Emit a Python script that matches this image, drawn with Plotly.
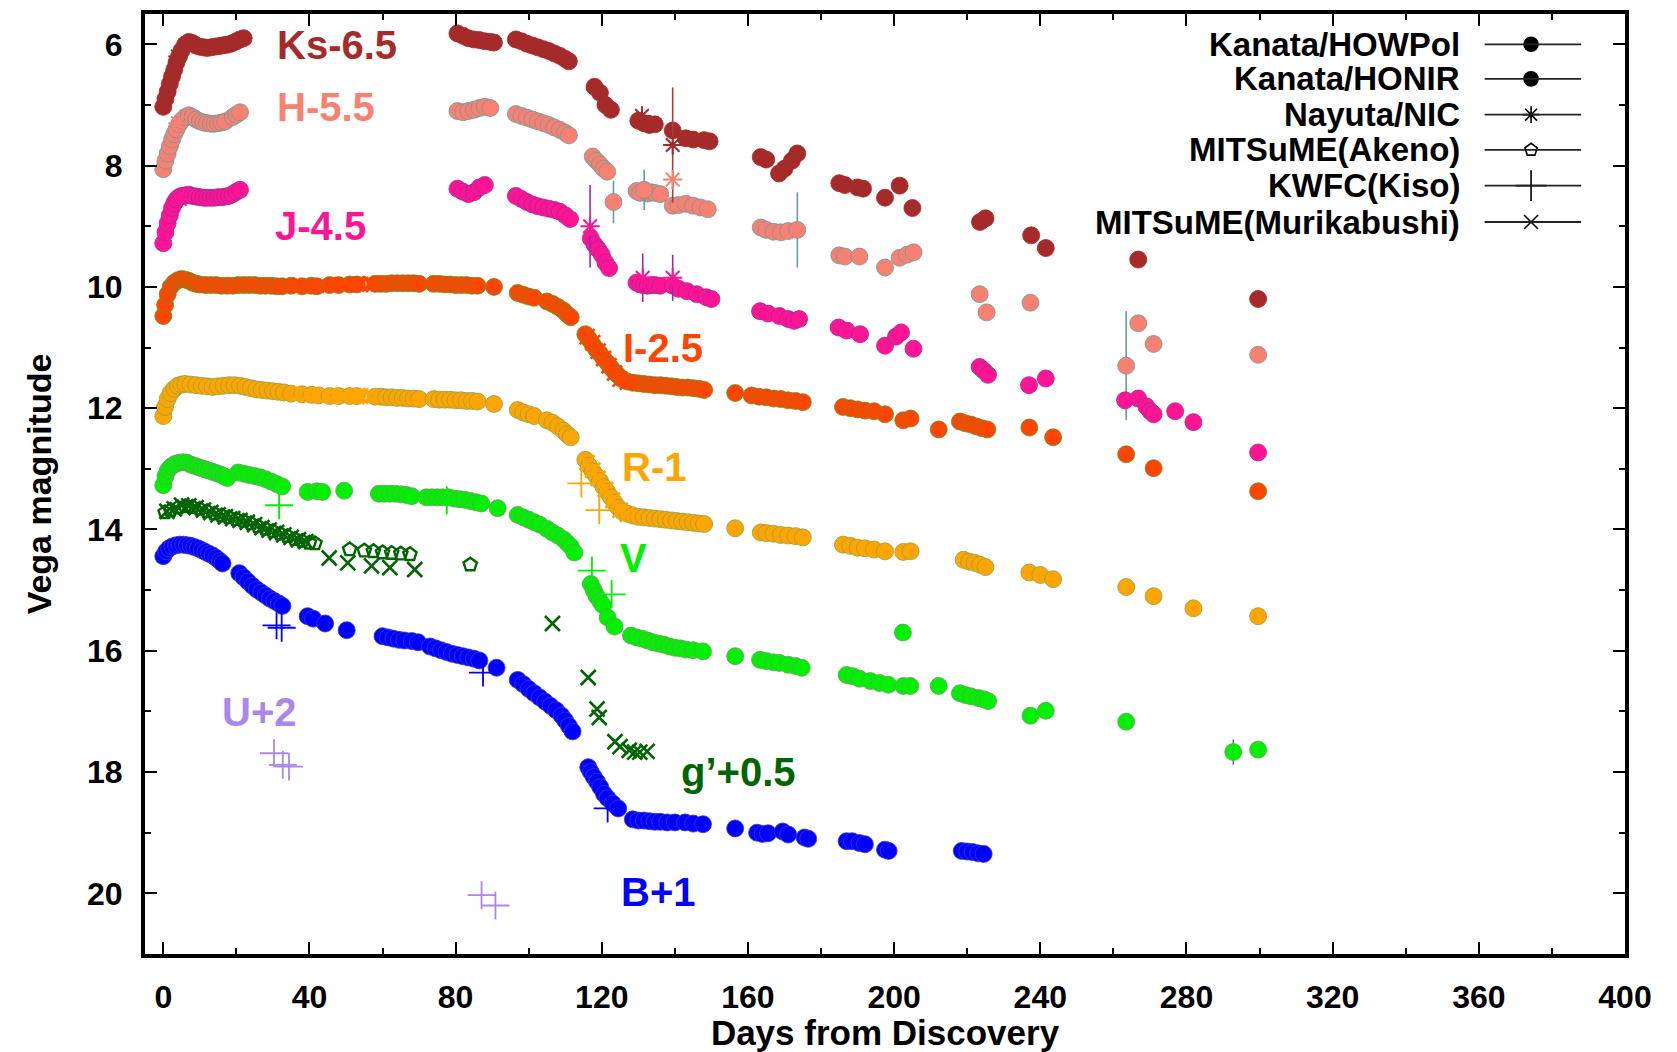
import plotly.graph_objects as go

# ---------------- photometry (days from discovery, offset Vega magnitudes) ----------------
# Ks - 6.5
ks_honir_day = [0.0, 0.6, 1.2, 1.8, 2.4, 3.0, 3.6, 4.3, 5.0, 6.0, 7.0, 8.0, 9.0, 10.0, 11.0, 12.0, 13.0,
                14.0, 15.0, 16.0, 17.0, 18.0, 19.0, 20.0, 21.0, 22.0,
                80.5, 82.0, 83.5, 85.0, 86.5, 88.0, 89.5, 90.5,
                96.5, 98.0, 99.5, 101.0, 102.5, 104.0, 105.5, 107.0, 108.5, 110.0, 111.0,
                118.0, 119.5, 121.0, 122.5,
                130.0, 131.5, 133.0, 134.5,
                139.4, 143.0, 145.0, 148.0, 149.5,
                163.5, 165.0, 168.5, 170.0, 172.0, 173.5,
                185.0, 186.5, 190.0, 191.5, 197.5, 201.5, 205.0,
                223.5, 225.0, 237.5, 241.5, 266.8, 299.6]
ks_honir_mag = [7.03, 6.90, 6.78, 6.65, 6.53, 6.42, 6.30, 6.20, 6.10, 6.00, 5.96, 5.98, 6.02, 6.04, 6.05, 6.06, 6.05,
                6.04, 6.03, 6.02, 6.01, 6.00, 5.98, 5.95, 5.92, 5.90,
                5.82, 5.86, 5.90, 5.92, 5.93, 5.95, 5.96, 5.97,
                5.92, 5.95, 5.99, 6.02, 6.05, 6.08, 6.11, 6.15, 6.19, 6.24, 6.28,
                6.70, 6.80, 7.00, 7.08,
                7.26, 7.30, 7.33, 7.32,
                7.42, 7.55, 7.57, 7.58, 7.60,
                7.86, 7.90, 8.13, 8.05, 7.92, 7.80,
                8.29, 8.32, 8.36, 8.38, 8.53, 8.33, 8.70,
                8.93, 8.87, 9.15, 9.36, 9.55, 10.20]
ks_nic_day = [4.0, 131.0, 139.4]
ks_nic_mag = [6.20, 7.18, 7.66]
ks_nic_err = [0.05, 0.10, 0.95]

# H - 5.5
h_honir_day = [0.0, 0.6, 1.2, 1.8, 2.4, 3.0, 3.6, 4.3, 5.0, 6.0, 7.0, 8.0, 9.0, 10.0, 11.0, 12.0, 13.0,
               14.0, 15.0, 16.0, 17.0, 19.0, 20.0, 21.0,
               80.5, 82.0, 83.5, 85.0, 86.5, 88.0, 89.5,
               96.5, 98.0, 99.5, 101.0, 102.5, 104.0, 105.5, 107.0, 108.5, 110.0, 111.0,
               117.5, 118.5, 119.5, 120.5, 121.5,
               129.5, 130.5, 132.5, 133.5, 134.5, 136.0,
               139.4, 141.0, 143.0, 145.0, 147.0, 149.0,
               163.5, 165.0, 167.0, 169.0, 171.0,
               185.0, 186.5, 190.5, 197.5, 201.5, 203.5, 205.3,
               223.4, 225.3, 237.3, 266.8, 271.0, 299.6]
h_honir_mag = [8.06, 7.92, 7.80, 7.68, 7.57, 7.48, 7.40, 7.32, 7.26, 7.20, 7.17, 7.20, 7.24, 7.27, 7.29, 7.30, 7.31,
               7.31, 7.30, 7.29, 7.27, 7.20, 7.16, 7.12,
               7.10, 7.12, 7.10, 7.08, 7.05, 7.03, 7.05,
               7.15, 7.18, 7.21, 7.24, 7.27, 7.30, 7.33, 7.37, 7.41, 7.46, 7.50,
               7.85, 7.92, 7.98, 8.05, 8.10,
               8.42, 8.45, 8.46, 8.44, 8.45, 8.47,
               8.66, 8.65, 8.63, 8.66, 8.69, 8.72,
               9.02, 9.06, 9.09, 9.10, 9.08,
               9.48, 9.50, 9.50, 9.68, 9.52, 9.47, 9.43,
               10.12, 10.42, 10.26, 10.60, 10.94, 11.12]
h_honir_err_day = [123.2, 131.6, 173.5, 263.5]
h_honir_err_mag = [8.60, 8.40, 9.06, 11.30]
h_honir_err = [0.35, 0.33, 0.62, 0.90]
h_nic_day = [4.0, 139.4]
h_nic_mag = [7.30, 8.23]
h_nic_err = [0.05, 0.15]

# J - 4.5
j_honir_day = [0.0, 0.6, 1.2, 1.8, 2.4, 3.0, 3.6, 4.3, 5.0, 6.0, 7.0, 8.0, 9.0, 10.0, 11.0, 12.0, 13.0,
               14.0, 15.0, 16.0, 17.0, 18.0, 19.0, 20.0, 21.0,
               80.5, 82.0, 83.5, 85.0, 86.5, 88.0,
               96.5, 98.0, 99.5, 101.0, 102.5, 104.0, 105.5, 107.0, 108.5, 110.0, 111.3,
               117.0, 118.0, 119.0, 120.0, 121.0, 122.0,
               129.5, 130.5, 131.5, 132.5, 133.5, 134.5, 136.0,
               139.4, 141.0, 143.3, 146.0, 148.6, 150.0,
               163.3, 165.5, 168.6, 171.0, 172.6, 174.0,
               184.8, 187.0, 190.7, 197.5, 200.5, 201.9, 205.3,
               223.4, 224.5, 225.7, 236.9, 241.5,
               263.2, 266.8, 269.0, 270.1, 271.0, 276.9, 281.9, 299.6]
j_honir_mag = [9.28, 9.10, 8.95, 8.82, 8.70, 8.62, 8.56, 8.52, 8.50, 8.49, 8.48, 8.50, 8.51, 8.52, 8.53, 8.53, 8.53,
               8.53, 8.52, 8.52, 8.51, 8.50, 8.47, 8.43, 8.40,
               8.38, 8.43, 8.47, 8.44, 8.36, 8.32,
               8.50, 8.55, 8.60, 8.64, 8.67, 8.69, 8.71, 8.73, 8.76, 8.82, 8.88,
               9.20, 9.30, 9.38, 9.47, 9.60, 9.69,
               9.93, 9.96, 9.97, 9.98, 9.97, 9.97, 9.98,
               9.98, 10.03, 10.07, 10.12, 10.17, 10.20,
               10.40, 10.44, 10.48, 10.53, 10.56, 10.53,
               10.67, 10.72, 10.78, 10.97, 10.82, 10.75, 11.02,
               11.32, 11.38, 11.45, 11.62, 11.51,
               11.87, 11.84, 11.97, 12.05, 12.10, 12.05, 12.23, 12.73]
j_nic_day = [4.5, 116.8, 131.2, 139.4]
j_nic_mag = [8.55, 9.00, 9.85, 9.85]
j_nic_err = [0.05, 0.68, 0.40, 0.38]

# I - 2.5
i_howpol_day = [0.0, 0.5, 1.2, 2.0, 3.0, 4.0, 5.0, 6.0, 7.0, 8.0, 9.0, 10.0, 11.5, 13.0, 14.5, 16.0, 17.5,
                19.0, 20.5, 22.0, 23.5, 25.0, 26.5, 28.0, 29.5, 31.0, 32.5, 35.0, 38.0, 40.5, 42.0,
                45.5, 48.0, 51.0, 53.0, 58.0, 59.5, 61.0, 62.5, 64.0, 65.5, 67.0, 68.5, 70.0,
                74.0, 75.5, 77.0, 78.5, 80.0, 81.5, 83.0, 84.5, 86.0, 90.5,
                97.0, 98.5, 100.0, 101.5, 105.0, 106.5, 108.0, 109.5, 110.5, 111.5,
                115.5, 116.5, 117.5, 118.5, 119.5, 120.5, 121.5, 122.5, 123.5, 124.5, 125.5,
                127.0, 128.5, 130.0, 131.5, 133.0, 134.5, 136.0, 137.5, 139.0, 140.5, 142.0,
                143.5, 145.0, 146.5, 148.0,
                156.5, 161.0, 163.0, 165.0, 167.0, 169.0, 171.0, 173.0, 175.0,
                186.0, 188.0, 190.0, 192.0, 194.5, 197.5, 202.5, 204.5, 212.2,
                218.0, 219.5, 221.0, 222.5, 224.0, 225.5,
                237.0, 243.5, 263.5, 271.0, 299.6]
i_howpol_mag = [10.48, 10.30, 10.12, 10.00, 9.93, 9.89, 9.87, 9.88, 9.90, 9.93, 9.95, 9.96, 9.97, 9.97, 9.97, 9.98, 9.98,
                9.98, 9.97, 9.97, 9.97, 9.97, 9.98, 9.98, 9.98, 9.99, 9.99, 9.98, 9.99, 9.98, 9.99,
                9.97, 9.97, 9.96, 9.96, 9.95, 9.95, 9.95, 9.94, 9.94, 9.94, 9.94, 9.94, 9.95,
                9.95, 9.95, 9.96, 9.96, 9.97, 9.97, 9.97, 9.98, 9.98, 10.00,
                10.10, 10.13, 10.16, 10.18, 10.24, 10.28, 10.33, 10.39, 10.45, 10.50,
                10.78, 10.86, 10.95, 11.03, 11.10, 11.18, 11.25, 11.33, 11.40, 11.46, 11.52,
                11.56, 11.58, 11.59, 11.60, 11.61, 11.62, 11.62, 11.63, 11.64, 11.65, 11.66,
                11.66, 11.67, 11.68, 11.70,
                11.75, 11.79, 11.81, 11.82, 11.84, 11.85, 11.87, 11.88, 11.90,
                11.98, 12.00, 12.02, 12.04, 12.05, 12.10, 12.20, 12.17, 12.35,
                12.22, 12.25, 12.27, 12.30, 12.33, 12.35,
                12.32, 12.48, 12.76, 12.99, 13.37]
i_akeno_day = [36.0, 42.5, 47.0, 52.5, 55.0]
i_akeno_mag = [9.98, 9.99, 9.97, 9.96, 9.95]
i_murikabushi_day = [39.5, 49.5, 54.0, 56.5, 116.0, 117.5, 119.0, 120.5, 122.0, 123.5, 125.0, 127.0]
i_murikabushi_mag = [9.99, 9.97, 9.96, 9.95, 10.82, 10.92, 11.06, 11.18, 11.30, 11.42, 11.52, 11.57]

# R - 1
r_howpol_day = [0.0, 0.5, 1.2, 2.0, 3.0, 4.0, 5.0, 6.0, 7.5, 9.0, 10.5, 12.0, 13.5, 15.0, 16.5, 18.0, 19.5,
                21.0, 22.5, 24.0, 25.5, 27.0, 28.5, 30.0, 31.5, 33.0, 35.0, 38.0, 40.5, 42.5,
                45.5, 48.0, 51.0, 53.0, 58.0, 59.5, 61.0, 62.5, 64.0, 65.5, 67.0, 68.5, 70.0,
                74.0, 75.5, 77.0, 78.5, 80.0, 81.5, 83.0, 84.5, 86.0, 90.5,
                97.0, 98.5, 100.0, 101.5, 105.0, 106.5, 108.0, 109.5, 110.5, 111.5,
                115.5, 116.5, 117.5, 118.5, 119.5, 120.5, 121.5, 122.5, 123.5, 124.5, 125.5,
                127.0, 128.5, 130.0, 131.5, 133.0, 134.5, 136.0, 137.5, 139.0, 140.5, 142.0,
                143.5, 145.0, 146.5, 148.0,
                156.5, 163.5, 165.0, 167.0, 169.0, 171.0, 173.0, 175.0,
                186.0, 188.0, 190.0, 192.0, 194.5, 197.5, 202.5, 204.5,
                219.0, 220.5, 222.0, 223.5, 225.0,
                237.0, 240.0, 243.5, 263.5, 271.0, 299.6]
r_howpol_mag = [12.13, 11.98, 11.85, 11.75, 11.68, 11.63, 11.61, 11.60, 11.61, 11.62, 11.63, 11.64, 11.65, 11.64, 11.63, 11.62, 11.62,
                11.63, 11.65, 11.67, 11.69, 11.70, 11.71, 11.72, 11.73, 11.74, 11.76, 11.77, 11.78, 11.79,
                11.80, 11.80, 11.80, 11.80, 11.81, 11.81, 11.82, 11.82, 11.83, 11.83, 11.84, 11.84, 11.85,
                11.85, 11.86, 11.86, 11.86, 11.87, 11.87, 11.88, 11.88, 11.89, 11.93,
                12.03, 12.07, 12.10, 12.13, 12.20, 12.24, 12.30, 12.37, 12.43, 12.48,
                12.85, 12.95, 13.04, 13.12, 13.20, 13.30, 13.38, 13.47, 13.56, 13.64, 13.70,
                13.74, 13.77, 13.79, 13.80, 13.81, 13.82, 13.83, 13.84, 13.85, 13.86, 13.87,
                13.88, 13.89, 13.90, 13.91,
                13.98, 14.05, 14.06, 14.07, 14.09, 14.10, 14.11, 14.13,
                14.25, 14.27, 14.30, 14.31, 14.33, 14.36, 14.37, 14.36,
                14.50, 14.53, 14.55, 14.58, 14.62,
                14.71, 14.75, 14.82, 14.95, 15.10, 15.43]
r_howpol_err_day = [281.9]
r_howpol_err_mag = [15.30]
r_howpol_err = [0.10]
r_akeno_day = [36.0, 42.5, 47.0, 52.5, 55.0]
r_akeno_mag = [11.76, 11.79, 11.80, 11.80, 11.80]
r_murikabushi_day = [39.5, 49.5, 54.0, 56.5, 116.0, 117.5, 119.0, 121.0, 123.0, 125.0, 127.0]
r_murikabushi_mag = [11.77, 11.80, 11.80, 11.81, 12.90, 13.02, 13.16, 13.34, 13.52, 13.68, 13.75]
r_kwfc_day = [114.4, 119.3]
r_kwfc_mag = [13.24, 13.68]

# V
v_howpol_day = [0.0, 0.6, 1.3, 2.2, 3.2, 4.3, 5.4, 6.5, 7.5, 8.5, 9.5, 10.5, 11.5, 12.5, 13.5, 14.5, 15.5,
                16.5, 17.5, 20.5, 22.0, 23.5, 25.0, 26.5, 28.0, 29.5, 31.0, 32.5,
                39.5, 42.0, 43.5, 49.5,
                59.0, 60.5, 62.0, 63.5, 65.0, 66.5, 68.0, 72.0, 73.5, 75.0, 76.5, 78.0, 79.5,
                81.0, 82.5, 84.0, 85.5, 87.0, 91.5,
                97.0, 98.5, 100.0, 101.5, 103.0, 105.0, 106.5, 108.0, 109.5, 110.5, 111.5, 112.5,
                117.0, 117.8, 118.6, 119.5, 120.3, 121.6, 123.5,
                128.0, 129.5, 131.0, 132.5, 134.0, 135.5, 137.0, 138.5, 140.0, 141.5, 143.0, 145.0, 147.7,
                156.5, 163.3, 165.0, 167.0, 168.6, 171.0, 173.0, 174.7,
                187.0, 188.7, 190.5, 193.5, 196.0, 198.4, 202.4, 202.5, 204.4, 212.2,
                218.0, 219.5, 221.0, 223.0, 224.5, 225.7,
                237.3, 241.5, 263.5, 299.6]
v_howpol_mag = [13.27, 13.12, 13.02, 12.96, 12.92, 12.90, 12.89, 12.90, 12.93, 12.95, 12.97, 12.99, 13.01, 13.03, 13.05, 13.07, 13.09,
                13.12, 13.15, 13.06, 13.08, 13.10, 13.12, 13.14, 13.17, 13.21, 13.25, 13.29,
                13.38, 13.37, 13.38, 13.36,
                13.41, 13.41, 13.41, 13.41, 13.42, 13.43, 13.45, 13.47, 13.47, 13.47, 13.47, 13.47, 13.49,
                13.50, 13.51, 13.53, 13.55, 13.57, 13.65,
                13.76, 13.80, 13.84, 13.88, 13.92, 13.99, 14.05, 14.10, 14.16, 14.22, 14.28, 14.38,
                14.90, 15.00, 15.10, 15.18, 15.25, 15.45, 15.60,
                15.75, 15.78, 15.80, 15.83, 15.86, 15.88, 15.90, 15.93, 15.95, 15.96, 15.98, 15.99, 16.01,
                16.09, 16.15, 16.17, 16.19, 16.20, 16.23, 16.25, 16.28,
                16.40, 16.42, 16.46, 16.50, 16.53, 16.56, 15.70, 16.58, 16.58, 16.58,
                16.70, 16.73, 16.75, 16.78, 16.80, 16.83,
                17.07, 16.99, 17.17, 17.63]
v_howpol_err_day = [292.8]
v_howpol_err_mag = [17.67]
v_howpol_err = [0.21]
v_kwfc_day = [31.7, 77.6, 117.3, 122.7]
v_kwfc_mag = [13.60, 13.52, 14.68, 15.07]

# g' + 0.5
g_akeno_day = [0.5, 2.0, 4.0, 6.0, 8.0, 10.0, 12.0, 14.0, 16.0, 18.0, 20.0, 22.0, 24.0, 26.0, 28.0,
               30.0, 32.0, 34.0, 36.0, 38.0, 40.0, 41.5, 51.0, 55.0, 57.5, 60.0, 62.5, 65.0, 67.5, 84.0]
g_akeno_mag = [13.72, 13.68, 13.64, 13.62, 13.63, 13.66, 13.70, 13.74, 13.77, 13.80, 13.83, 13.86, 13.90, 13.95, 13.99,
               14.03, 14.07, 14.11, 14.16, 14.19, 14.22, 14.23, 14.33, 14.35, 14.36, 14.38, 14.39, 14.40, 14.41, 14.58]
g_murikabushi_day = [1.0, 3.0, 5.0, 7.0, 9.0, 11.0, 13.0, 15.0, 17.0, 19.0, 21.0, 23.0, 25.0, 27.0, 29.0,
                     31.0, 33.0, 35.0, 37.0, 39.0, 45.4, 50.5, 57.0,
                     62.0, 68.8, 106.5, 116.3, 118.7, 119.3, 123.6, 125.0, 127.5, 129.0, 130.4, 132.4]
g_murikabushi_mag = [13.70, 13.66, 13.60, 13.61, 13.64, 13.68, 13.72, 13.76, 13.79, 13.82, 13.85, 13.88, 13.92, 13.97, 14.01,
                     14.05, 14.09, 14.13, 14.17, 14.20, 14.47, 14.55, 14.60,
                     14.63, 14.66, 15.55, 16.44, 16.96, 17.10, 17.50, 17.58, 17.64, 17.67, 17.67, 17.66]

# B + 1
b_howpol_day = [0.0, 0.8, 1.6, 2.5, 3.5, 4.5, 5.5, 6.5, 7.5, 8.5, 9.5, 10.5, 11.5, 12.5, 13.5, 14.5, 15.5, 16.2,
                20.8, 22.0, 23.2, 24.4, 25.6, 26.8, 28.0, 29.2, 30.4, 31.6, 32.6,
                39.5, 41.0, 44.3, 50.2,
                60.0, 61.5, 63.0, 64.5, 66.0, 68.0, 69.7, 73.0, 74.5, 76.0, 77.5, 79.0, 80.5, 82.0, 83.5,
                85.0, 86.5, 91.2,
                97.0, 98.5, 100.0, 101.5, 103.0, 104.5, 106.0, 107.5, 109.0, 110.0, 111.0, 112.0,
                116.3, 117.0, 117.8, 118.7, 119.6, 120.6, 121.6, 123.0, 124.5,
                128.5, 130.0, 131.5, 133.0, 134.5, 136.0, 137.9, 140.0, 142.8, 145.0, 147.7,
                156.5, 162.5, 164.0, 165.5, 169.5, 171.0, 175.5, 176.5,
                187.0, 188.5, 190.5, 192.0, 197.5, 198.5,
                218.5, 220.0, 221.5, 223.0, 224.5]
b_howpol_mag = [14.44, 14.36, 14.31, 14.28, 14.26, 14.25, 14.25, 14.26, 14.27, 14.29, 14.31, 14.34, 14.37, 14.40, 14.43, 14.47, 14.52, 14.56,
                14.72, 14.79, 14.86, 14.93, 14.99, 15.04, 15.09, 15.14, 15.18, 15.22, 15.26,
                15.43, 15.47, 15.55, 15.66,
                15.76, 15.78, 15.80, 15.82, 15.83, 15.84, 15.86, 15.93, 15.96, 15.99, 16.02, 16.05, 16.07, 16.09, 16.11,
                16.13, 16.16, 16.28,
                16.48, 16.55, 16.63, 16.70, 16.77, 16.84, 16.91, 16.98, 17.07, 17.15, 17.24, 17.33,
                17.92, 18.00, 18.08, 18.16, 18.25, 18.36, 18.43, 18.52, 18.60,
                18.78, 18.80, 18.80, 18.81, 18.82, 18.82, 18.83, 18.83, 18.83, 18.85, 18.86,
                18.93, 19.00, 19.02, 19.01, 18.98, 19.03, 19.08, 19.10,
                19.14, 19.14, 19.17, 19.19, 19.28, 19.30,
                19.30, 19.31, 19.32, 19.34, 19.35]
b_kwfc_day = [31.0, 32.4, 87.5, 121.6]
b_kwfc_mag = [15.58, 15.62, 16.36, 18.60]

# U + 2
u_kwfc_day = [30.3, 32.7, 34.4, 87.1, 90.9]
u_kwfc_mag = [17.69, 17.88, 17.91, 20.03, 20.20]

# band labels
band_labels = ["Ks-6.5", "H-5.5", "J-4.5", "I-2.5", "R-1", "V", "g\u2019+0.5", "B+1", "U+2"]
band_label_day = [47.5, 44.6, 43.1, 136.8, 134.2, 128.7, 157.3, 135.6, 26.4]
band_label_mag = [6.01, 7.04, 9.00, 11.01, 12.97, 14.47, 18.00, 19.97, 17.01]

# instruments
instrument_names = ["Kanata/HOWPol", "Kanata/HONIR", "Nayuta/NIC", "MITSuME(Akeno)", "KWFC(Kiso)",
                    "MITSuME(Murikabushi)"]

x_ticks = [0, 40, 80, 120, 160, 200, 240, 280, 320, 360, 400]
y_ticks = [6, 8, 10, 12, 14, 16, 18, 20]

# ---------------- styling ----------------
FONT = "Liberation Sans, Arial, Helvetica, sans-serif"
COL = {
    "Ks": "#a52a2a", "H": "#fa8072", "J": "#ff1493", "I": "#ff4500", "R": "#ffa500",
    "V": "#00f000", "g": "#006400", "B": "#0000ff", "U": "#a888ee",
}
EDGE = {
    "Ks": "#a52a2a", "H": "#5f9ea0", "J": "#9c2aa0", "I": "#6b8e23", "R": "#8ea04a",
    "V": "#6a9a6a", "B": "#3a3ad0",
}
ERRC = {"Ks": "#a54040", "H": "#5f9ea0", "J": "#9c2aa0", "R": "#b08020", "V": "#708070"}

SYMBOLS = {
    "circle": "circle",
    "nic": "asterisk-open",
    "akeno": "pentagon-open",
    "kwfc": "cross-thin-open",
    "muri": "x-thin-open",
}
SIZES = {"circle": 17, "nic": 16, "akeno": 14, "kwfc": 20, "muri": 15}
WIDTHS = {"nic": 2.0, "akeno": 2.4, "kwfc": 1.8, "muri": 2.6}
label_colors = [COL["Ks"], COL["H"], COL["J"], COL["I"], COL["R"], COL["V"], COL["g"], COL["B"], COL["U"]]

fig = go.Figure()


def add_points(days, mags, band, kind, errs=None):
    color = COL[band]
    if kind == "circle":
        marker = dict(symbol="circle", size=SIZES[kind], color=color,
                      line=dict(color=EDGE.get(band, color), width=0.8))
    else:
        marker = dict(symbol=SYMBOLS[kind], size=SIZES[kind], color=color,
                      line=dict(color=color, width=WIDTHS[kind]))
    err = None
    if errs is not None:
        err = dict(type="data", array=errs, visible=True, color=ERRC.get(band, color),
                   thickness=1.6, width=0)
    fig.add_trace(go.Scatter(x=days, y=mags, mode="markers", marker=marker, error_y=err,
                             showlegend=False, hoverinfo="skip", cliponaxis=True))


# filled-circle series (Kanata)
add_points(ks_honir_day, ks_honir_mag, "Ks", "circle")
add_points(h_honir_day, h_honir_mag, "H", "circle")
add_points(h_honir_err_day, h_honir_err_mag, "H", "circle", h_honir_err)
add_points(j_honir_day, j_honir_mag, "J", "circle")
add_points(i_howpol_day, i_howpol_mag, "I", "circle")
add_points(r_howpol_day, r_howpol_mag, "R", "circle")
add_points(r_howpol_err_day, r_howpol_err_mag, "R", "circle", r_howpol_err)
add_points(v_howpol_day, v_howpol_mag, "V", "circle")
add_points(v_howpol_err_day, v_howpol_err_mag, "V", "circle", v_howpol_err)
add_points(b_howpol_day, b_howpol_mag, "B", "circle")

# other instruments on top
add_points(ks_nic_day, ks_nic_mag, "Ks", "nic", ks_nic_err)
add_points(h_nic_day, h_nic_mag, "H", "nic", h_nic_err)
add_points(j_nic_day, j_nic_mag, "J", "nic", j_nic_err)
add_points(i_akeno_day, i_akeno_mag, "I", "akeno")
add_points(i_murikabushi_day, i_murikabushi_mag, "I", "muri")
add_points(r_akeno_day, r_akeno_mag, "R", "akeno")
add_points(r_murikabushi_day, r_murikabushi_mag, "R", "muri")
add_points(r_kwfc_day, r_kwfc_mag, "R", "kwfc")
add_points(v_kwfc_day, v_kwfc_mag, "V", "kwfc")
add_points(g_akeno_day, g_akeno_mag, "g", "akeno")
add_points(g_murikabushi_day, g_murikabushi_mag, "g", "muri")
add_points(b_kwfc_day, b_kwfc_mag, "B", "kwfc")
add_points(u_kwfc_day, u_kwfc_mag, "U", "kwfc")

# band labels
annotations = []
for text, xd, ym, c in zip(band_labels, band_label_day, band_label_mag, label_colors):
    annotations.append(dict(x=xd, y=ym, xref="x", yref="y", text=text, showarrow=False,
                            font=dict(family=FONT, size=40, color=c, weight="bold"),
                            xanchor="center", yanchor="middle"))

# key in the upper right: label, sample line, sample symbol
key_rows = [6.0, 6.57, 7.16, 7.74, 8.33, 8.93]
key_text_x = 355.2
key_line_x = (361.6, 388.0)
key_sym_x = 374.3
key_symbols = ["circle", "circle", "asterisk-open", "pentagon-open", "cross-thin-open", "x-thin-open"]
key_sizes = [14, 14, 14, 13, 22, 14]
shapes = []
for name, yk, sym, sz in zip(instrument_names, key_rows, key_symbols, key_sizes):
    annotations.append(dict(x=key_text_x, y=yk, xref="x", yref="y", text=name, showarrow=False,
                            font=dict(family=FONT, size=33, color="black", weight="bold"),
                            borderpad=0,
                            xanchor="right", yanchor="middle"))
    shapes.append(dict(type="line", xref="x", yref="y", x0=key_line_x[0], x1=key_line_x[1],
                       y0=yk, y1=yk, line=dict(color="#222222", width=1.8)))
    fig.add_trace(go.Scatter(x=[key_sym_x], y=[yk], mode="markers", showlegend=False, hoverinfo="skip",
                             marker=dict(symbol=sym, size=sz, color="black",
                                         line=dict(color="black", width=1.6))))

axis_common = dict(
    showline=True, linewidth=4, linecolor="black", mirror="ticks",
    ticks="inside", ticklen=12, tickwidth=2, tickcolor="black",
    showgrid=False, zeroline=False,
    tickfont=dict(family=FONT, size=32, color="black", weight="bold"),
)

fig.update_layout(
    width=1677, height=1052,
    margin=dict(l=145, r=52, t=10, b=90),
    paper_bgcolor="white", plot_bgcolor="white",
    showlegend=False,
    font=dict(family=FONT, color="black"),
    annotations=annotations,
    shapes=shapes,
    xaxis=dict(
        range=[-5, 400], tickmode="array", tickvals=x_ticks,
        minor=dict(tickmode="linear", tick0=0, dtick=20, ticks="inside", ticklen=6,
                   tickwidth=2, tickcolor="black"),
        ticklabelstandoff=12,
        title=dict(text="Days from Discovery", standoff=2,
                   font=dict(family=FONT, size=35, color="black", weight="bold")),
        **axis_common,
    ),
    yaxis=dict(
        range=[21, 5.5], tickmode="array", tickvals=y_ticks,
        minor=dict(tickmode="linear", tick0=0, dtick=1, ticks="inside", ticklen=6,
                   tickwidth=2, tickcolor="black"),
        ticklabelstandoff=12,
        title=dict(text="Vega magnitude", standoff=26,
                   font=dict(family=FONT, size=34, color="black", weight="bold")),
        **axis_common,
    ),
)

fig.write_html("out.html")
